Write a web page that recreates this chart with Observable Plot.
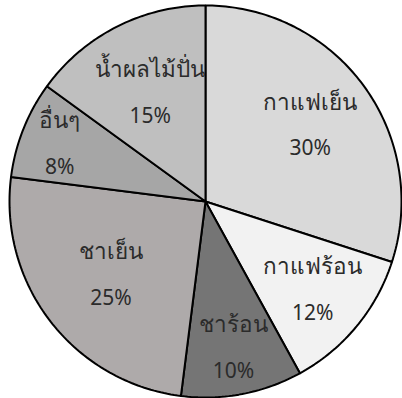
<!DOCTYPE html>
<html>
<head>
<meta charset="utf-8">
<script src="https://cdn.jsdelivr.net/npm/d3@7"></script>
<script src="https://cdn.jsdelivr.net/npm/@observablehq/plot@0.6"></script>
<style>
  html, body { margin: 0; padding: 0; background: #fff; }
  #chart svg { display: block; }
</style>
</head>
<body>
<div id="chart"></div>
<script>
// Data
const categories = ["กาแฟเย็น", "กาแฟร้อน", "ชาร้อน", "ชาเย็น", "อื่นๆ", "น้ำผลไม้ปั่น"];
const values = [30, 12, 10, 25, 8, 15];
const percentLabels = ["30%", "12%", "10%", "25%", "8%", "15%"];

// Styles / layout (kept apart from data)
const sliceColors = ["#d9d9d9", "#f2f2f2", "#757575", "#aeaaaa", "#a6a6a6", "#bfbfbf"];
const labelRadius = [0.66, 0.71, 0.76, 0.61, 0.80, 0.62];

const arcs = d3.pie().sort(null).startAngle(0).endAngle(2 * Math.PI)(values);

// Build slice polygons (in unit-circle data space)
const slicePoints = [];
arcs.forEach((a, i) => {
  const cat = categories[i];
  slicePoints.push({cat, x: 0, y: 0});
  const span = a.endAngle - a.startAngle;
  const n = Math.max(4, Math.ceil(span / (Math.PI / 180)));
  for (let k = 0; k <= n; k++) {
    const t = a.startAngle + span * k / n;
    slicePoints.push({cat, x: Math.sin(t), y: Math.cos(t)});
  }
});

const labels = arcs.map((a, i) => {
  const m = (a.startAngle + a.endAngle) / 2;
  const r = labelRadius[i];
  return {cat: categories[i], pct: percentLabels[i], x: r * Math.sin(m), y: r * Math.cos(m)};
});

const chart = Plot.plot({
  width: 402,
  height: 398,
  marginLeft: 9,
  marginRight: 1,
  marginTop: 5,
  marginBottom: 1,
  x: {domain: [-1, 1], axis: null},
  y: {domain: [-1, 1], axis: null},
  color: {domain: categories, range: sliceColors},
  style: {fontFamily: "'Noto Sans', 'DejaVu Sans', sans-serif"},
  marks: [
    Plot.line(slicePoints, {
      x: "x", y: "y", z: "cat", fill: "cat",
      stroke: "#000", strokeWidth: 2, curve: "linear-closed",
      strokeLinejoin: "miter"
    }),
    Plot.text(labels, {x: "x", y: "y", text: "cat", dy: -23, fontSize: 22.5, fill: "#2b2b2b"}),
    Plot.text(labels, {x: "x", y: "y", text: "pct", dy: 23, fontSize: 21, fill: "#2b2b2b"})
  ]
});
document.getElementById("chart").appendChild(chart);
</script>
</body>
</html>
